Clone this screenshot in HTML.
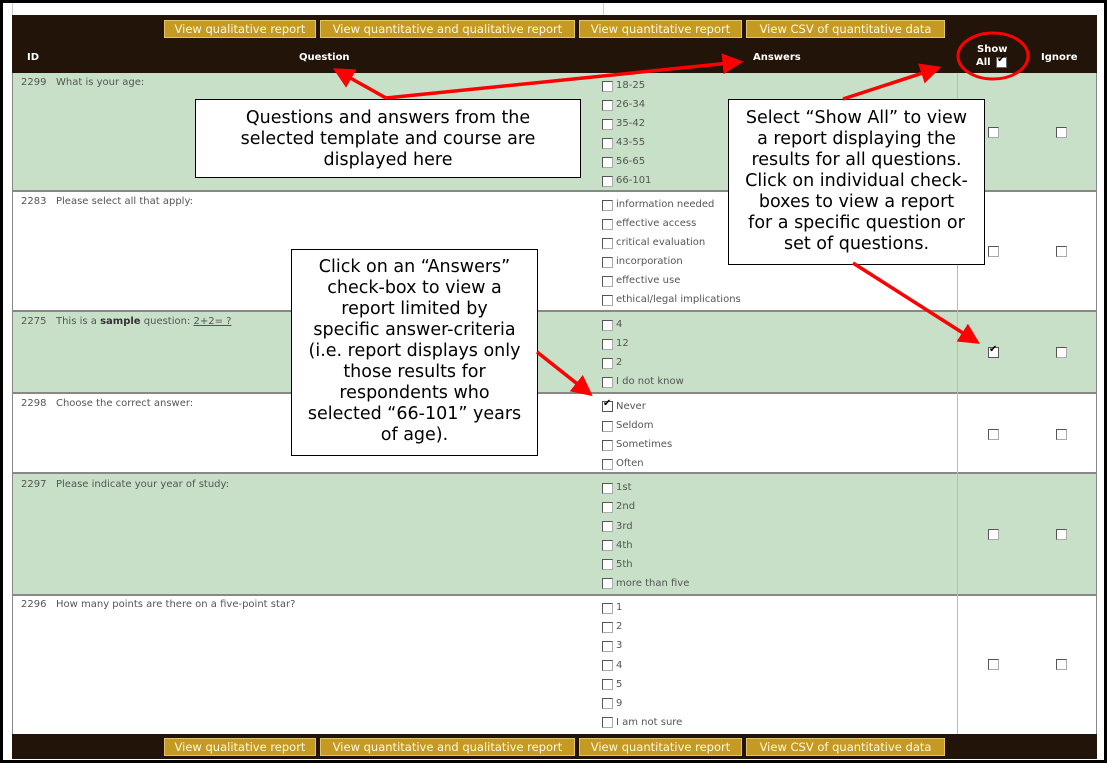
<!DOCTYPE html>
<html><head><meta charset="utf-8"><style>
*{margin:0;padding:0;box-sizing:border-box}
body{width:1108px;height:764px;background:#fff;position:relative;overflow:hidden;font-family:"DejaVu Sans","Liberation Sans",sans-serif}
.abs{position:absolute}
.frame{left:0;top:0;width:1107px;height:763px;border:3px solid #000}
.dark{background:#231409}
.btn{position:absolute;height:18px;background:#c49a22;border:1px solid #e2c469;color:#fff8e0;font-size:11.5px;line-height:16px;text-align:center;white-space:nowrap}
.hd{position:absolute;color:#fff;font-weight:bold;font-size:10px}
.row{position:absolute;left:12px;width:1085px;border-bottom:2px solid #888}
.g{background:#c8dfc8}
.t{position:absolute;font-size:10px;color:#555;white-space:nowrap}
.t[style*="left:616px"]{margin-top:3px}
.cb{position:absolute;width:11px;height:11px;background:#fff;border:1px solid #aaa;border-top-color:#555;border-left-color:#555}
.box{position:absolute;background:#fff;border:1.5px solid #000;font-size:17.5px;line-height:21px;text-align:center;color:#000;white-space:nowrap}
</style></head><body>
<div class="abs frame"></div>
<div class="abs" style="left:603px;top:3px;width:1px;height:12px;background:#ccc"></div>
<div class="abs" style="left:12px;top:3px;width:1px;height:12px;background:#ccc"></div>
<div class="abs dark" style="left:12px;top:15px;width:1085px;height:58px"></div>
<div class="btn" style="left:164px;top:20px;width:152px">View qualitative report</div>
<div class="btn" style="left:320px;top:20px;width:255px">View quantitative and qualitative report</div>
<div class="btn" style="left:579px;top:20px;width:163px">View quantitative report</div>
<div class="btn" style="left:746px;top:20px;width:199px">View CSV of quantitative data</div>
<div class="hd" style="left:27px;top:52px">ID</div>
<div class="hd" style="left:299px;top:52px">Question</div>
<div class="hd" style="left:753px;top:52px">Answers</div>
<div class="hd" style="left:977px;top:44px">Show</div>
<div class="hd" style="left:976px;top:57px">All</div>
<div class="cb" style="left:996px;top:57px;border-color:#666"><span style="position:absolute;left:0;top:-4px;font-size:10px;color:#000">✔</span></div>
<div class="hd" style="left:1041px;top:52px">Ignore</div>

<div class="row g" style="top:73px;height:119px"></div>
<div class="row" style="top:192px;height:120px"></div>
<div class="row g" style="top:312px;height:82px"></div>
<div class="row" style="top:394px;height:80px"></div>
<div class="row g" style="top:474px;height:122px"></div>
<div class="row" style="top:596px;height:138px;border-bottom:none"></div>
<div class="abs" style="left:12px;top:73px;width:1px;height:661px;background:#888"></div>
<div class="abs" style="left:1096px;top:73px;width:1px;height:661px;background:#888"></div>
<div class="abs" style="left:957px;top:73px;width:1px;height:661px;background:#bbb"></div>

<div class="t" style="left:21px;top:77px">2299&nbsp;&nbsp; What is your age:</div>
<div class="t" style="left:21px;top:196px">2283&nbsp;&nbsp; Please select all that apply:</div>
<div class="t" style="left:21px;top:316px">2275&nbsp;&nbsp; This is a <b style="color:#333">sample</b> question: <u>2+2= ?</u></div>
<div class="t" style="left:21px;top:398px">2298&nbsp;&nbsp; Choose the correct answer:</div>
<div class="t" style="left:21px;top:479px">2297&nbsp;&nbsp; Please indicate your year of study:</div>
<div class="t" style="left:21px;top:599px">2296&nbsp;&nbsp; How many points are there on a five-point star?</div>

<div class="cb" style="left:602px;top:81px"></div><div class="t" style="left:616px;top:77px">18-25</div>
<div class="cb" style="left:602px;top:100px"></div><div class="t" style="left:616px;top:96px">26-34</div>
<div class="cb" style="left:602px;top:119px"></div><div class="t" style="left:616px;top:115px">35-42</div>
<div class="cb" style="left:602px;top:138px"></div><div class="t" style="left:616px;top:134px">43-55</div>
<div class="cb" style="left:602px;top:157px"></div><div class="t" style="left:616px;top:153px">56-65</div>
<div class="cb" style="left:602px;top:176px"></div><div class="t" style="left:616px;top:172px">66-101</div>

<div class="cb" style="left:602px;top:200px"></div><div class="t" style="left:616px;top:196px">information needed</div>
<div class="cb" style="left:602px;top:219px"></div><div class="t" style="left:616px;top:215px">effective access</div>
<div class="cb" style="left:602px;top:238px"></div><div class="t" style="left:616px;top:234px">critical evaluation</div>
<div class="cb" style="left:602px;top:257px"></div><div class="t" style="left:616px;top:253px">incorporation</div>
<div class="cb" style="left:602px;top:276px"></div><div class="t" style="left:616px;top:272px">effective use</div>
<div class="cb" style="left:602px;top:295px"></div><div class="t" style="left:616px;top:291px">ethical/legal implications</div>

<div class="cb" style="left:602px;top:320px"></div><div class="t" style="left:616px;top:316px">4</div>
<div class="cb" style="left:602px;top:339px"></div><div class="t" style="left:616px;top:335px">12</div>
<div class="cb" style="left:602px;top:358px"></div><div class="t" style="left:616px;top:354px">2</div>
<div class="cb" style="left:602px;top:377px"></div><div class="t" style="left:616px;top:373px">I do not know</div>

<div class="cb" style="left:602px;top:401px;border-color:#555"><span style="position:absolute;left:0;top:-4px;font-size:10px;color:#000">✔</span></div><div class="t" style="left:616px;top:398px">Never</div>
<div class="cb" style="left:602px;top:421px"></div><div class="t" style="left:616px;top:417px">Seldom</div>
<div class="cb" style="left:602px;top:440px"></div><div class="t" style="left:616px;top:436px">Sometimes</div>
<div class="cb" style="left:602px;top:459px"></div><div class="t" style="left:616px;top:455px">Often</div>

<div class="cb" style="left:602px;top:483px"></div><div class="t" style="left:616px;top:479px">1st</div>
<div class="cb" style="left:602px;top:502px"></div><div class="t" style="left:616px;top:498px">2nd</div>
<div class="cb" style="left:602px;top:521px"></div><div class="t" style="left:616px;top:518px">3rd</div>
<div class="cb" style="left:602px;top:540px"></div><div class="t" style="left:616px;top:537px">4th</div>
<div class="cb" style="left:602px;top:559px"></div><div class="t" style="left:616px;top:556px">5th</div>
<div class="cb" style="left:602px;top:578px"></div><div class="t" style="left:616px;top:575px">more than five</div>

<div class="cb" style="left:602px;top:603px"></div><div class="t" style="left:616px;top:599px">1</div>
<div class="cb" style="left:602px;top:622px"></div><div class="t" style="left:616px;top:618px">2</div>
<div class="cb" style="left:602px;top:641px"></div><div class="t" style="left:616px;top:637px">3</div>
<div class="cb" style="left:602px;top:660px"></div><div class="t" style="left:616px;top:657px">4</div>
<div class="cb" style="left:602px;top:679px"></div><div class="t" style="left:616px;top:676px">5</div>
<div class="cb" style="left:602px;top:698px"></div><div class="t" style="left:616px;top:695px">9</div>
<div class="cb" style="left:602px;top:717px"></div><div class="t" style="left:616px;top:714px">I am not sure</div>

<div class="cb" style="left:988px;top:127px"></div><div class="cb" style="left:1056px;top:127px"></div>
<div class="cb" style="left:988px;top:246px"></div><div class="cb" style="left:1056px;top:246px"></div>
<div class="cb" style="left:988px;top:347px;border-color:#555"><span style="position:absolute;left:0;top:-4px;font-size:10px;color:#000">✔</span></div><div class="cb" style="left:1056px;top:347px"></div>
<div class="cb" style="left:988px;top:429px"></div><div class="cb" style="left:1056px;top:429px"></div>
<div class="cb" style="left:988px;top:529px"></div><div class="cb" style="left:1056px;top:529px"></div>
<div class="cb" style="left:988px;top:659px"></div><div class="cb" style="left:1056px;top:659px"></div>

<div class="abs dark" style="left:12px;top:734px;width:1085px;height:25px"></div>
<div class="btn" style="left:164px;top:738px;width:152px">View qualitative report</div>
<div class="btn" style="left:320px;top:738px;width:255px">View quantitative and qualitative report</div>
<div class="btn" style="left:579px;top:738px;width:163px">View quantitative report</div>
<div class="btn" style="left:746px;top:738px;width:199px">View CSV of quantitative data</div>

<div class="box" style="left:195px;top:99px;width:386px;height:79px;padding-top:8px">Questions and answers from the<br>selected template and course are<br>displayed here</div>
<div class="box" style="left:728px;top:99px;width:257px;height:166px;padding-top:8px">Select “Show All” to view<br>a report displaying the<br>results for all questions.<br>Click on individual check-<br>boxes to view a report<br>for a specific question or<br>set of questions.</div>
<div class="box" style="left:291px;top:249px;width:247px;height:207px;padding-top:7px">Click on an “Answers”<br>check-box to view a<br>report limited by<br>specific answer-criteria<br>(i.e. report displays only<br>those results for<br>respondents who<br>selected “66-101” years<br>of age).</div>

<svg class="abs" style="left:0;top:0" width="1108" height="764">
<defs><marker id="ah" markerWidth="6" markerHeight="6" refX="5" refY="3" orient="auto" markerUnits="strokeWidth"><path d="M0,0 L6,3 L0,6 z" fill="#f00"/></marker></defs>
<g stroke="#f00" stroke-width="3.5" fill="none">
<polyline points="386,98 740,62" marker-end="url(#ah)"/>
<line x1="386" y1="98" x2="336" y2="70" marker-end="url(#ah)"/>
<line x1="843" y1="99" x2="938" y2="68" marker-end="url(#ah)"/>
<line x1="853" y1="263" x2="977" y2="342" marker-end="url(#ah)"/>
<line x1="537" y1="352" x2="590" y2="394" marker-end="url(#ah)"/>
<ellipse cx="993" cy="56" rx="35" ry="23" stroke-width="3"/>
</g>
</svg>
</body></html>
